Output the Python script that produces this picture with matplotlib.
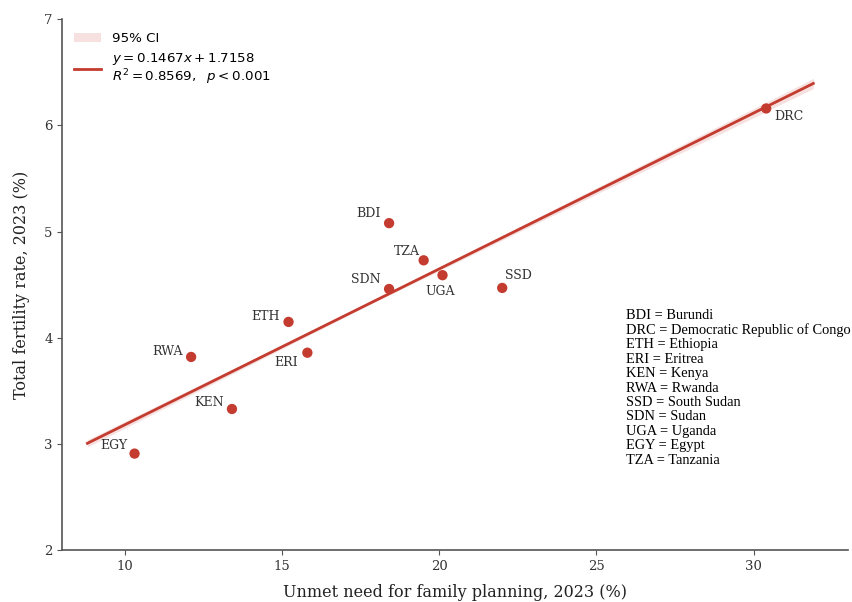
import matplotlib
matplotlib.use("Agg")
import matplotlib.pyplot as plt
import numpy as np

# data
codes = ["DRC", "BDI", "TZA", "UGA", "SDN", "SSD", "ETH", "ERI", "RWA", "KEN", "EGY"]
unmet_need = [30.4, 18.4, 19.5, 20.1, 18.4, 22.0, 15.2, 15.8, 12.1, 13.4, 10.3]
fertility = [6.16, 5.08, 4.73, 4.59, 4.46, 4.47, 4.15, 3.86, 3.82, 3.33, 2.91]

slope, intercept = 0.1467, 1.7158
r2_text = "0.8569"

key_lines = [
    "BDI = Burundi",
    "DRC = Democratic Republic of Congo",
    "ETH = Ethiopia",
    "ERI = Eritrea",
    "KEN = Kenya",
    "RWA = Rwanda",
    "SSD = South Sudan",
    "SDN = Sudan",
    "UGA = Uganda",
    "EGY = Egypt",
    "TZA = Tanzania",
]

# label placement (offset in points, horizontal alignment)
label_pos = {
    "DRC": ((6, -6), "left"),
    "BDI": ((-6, 7), "right"),
    "TZA": ((-3, 6), "right"),
    "UGA": ((-2, -12), "center"),
    "SDN": ((-6, 7), "right"),
    "SSD": ((2, 9), "left"),
    "ETH": ((-6, 4), "right"),
    "ERI": ((-7, -7), "right"),
    "RWA": ((-6, 4), "right"),
    "KEN": ((-6, 5), "right"),
    "EGY": ((-5, 6), "right"),
}

red = "#c43b2f"
serif = "DejaVu Serif"
times = "Liberation Serif"

fig = plt.figure(figsize=(8.53, 6.02), dpi=100)
ax = fig.add_axes([0.073, 0.086, 0.921, 0.882])

x = np.array(unmet_need)
y = np.array(fertility)
xs = np.linspace(x.min() - 1.5, x.max() + 1.5, 200)
ys = slope * xs + intercept
# narrow confidence band, widening away from the mean
half = 0.012 + 0.0025 * np.abs(xs - x.mean())
ax.fill_between(xs, ys - half, ys + half, color=red, alpha=0.15, linewidth=0,
                label="95% CI", zorder=1)
ax.plot(xs, ys, color=red, linewidth=2, zorder=2,
        label="$y = %.4fx + %.4f$\n$R^2 = %s,\\ \\ p < 0.001$" % (slope, intercept, r2_text))
ax.scatter(x, y, s=55, color=red, zorder=3, edgecolors="none")

for c, xi, yi in zip(codes, x, y):
    off, ha = label_pos[c]
    ax.annotate(c, (xi, yi), xytext=off, textcoords="offset points", ha=ha,
                va="center", fontsize=9, family=serif, color="#333333")

ax.text(0.717, 0.455, "\n".join(key_lines), transform=ax.transAxes, fontsize=10.4,
        family=times, va="top", ha="left", linespacing=1.14)

ax.set_xlim(8, 33)
ax.set_ylim(2, 7)
ax.set_xticks([10, 15, 20, 25, 30])
ax.set_yticks([2, 3, 4, 5, 6, 7])
ax.set_xlabel("Unmet need for family planning, 2023 (%)", family=serif, fontsize=11.5,
              labelpad=8, color="#222222")
ax.set_ylabel("Total fertility rate, 2023 (%)", family=serif, fontsize=11.5,
              labelpad=10, color="#222222")
for lab in ax.get_xticklabels() + ax.get_yticklabels():
    lab.set_family(serif)
    lab.set_fontsize(9.5)
    lab.set_color("#333333")
for s in ["top", "right"]:
    ax.spines[s].set_visible(False)
for s in ["left", "bottom"]:
    ax.spines[s].set_color("#555555")
    ax.spines[s].set_linewidth(1.2)
ax.tick_params(color="#555555")

leg = ax.legend(loc="upper left", frameon=False, fontsize=9.6, bbox_to_anchor=(0.0, 0.998),
                handlelength=2.0, labelspacing=0.45)
for t in leg.get_texts():
    t.set_linespacing(1.0)

fig.savefig("out.png", dpi=100)
